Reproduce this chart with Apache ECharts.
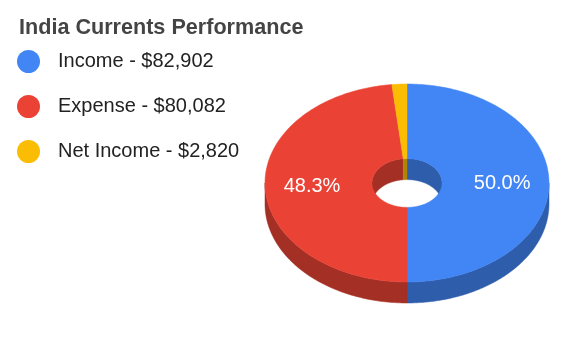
<!DOCTYPE html>
<html>
<head>
<meta charset="utf-8">
<script src="https://cdn.jsdelivr.net/npm/echarts@6/dist/echarts.min.js"></script>
<style>
  html, body { margin: 0; padding: 0; background: #fff; }
  #chart { width: 574px; height: 354px; }
</style>
</head>
<body>
<div id="chart"></div>
<script>
// data
var categories = ['Income', 'Expense', 'Net Income'];
var values = [82902, 80082, 2820];
var topColors = ['#4285f4', '#ea4335', '#fbbc04'];
var sideColors = ['#2e5dab', '#a42f25', '#b08403'];

var total = values.reduce(function (a, b) { return a + b; }, 0);
var pieData = [];
var acc = 0;
values.forEach(function (v) {
  pieData.push([acc, v, total]);
  acc += v;
});

var FONT = '"Liberation Sans", Arial, sans-serif';

// 3d pie geometry
var cx = 407, cy = 183, rx = 142, ry = 99, hx = 35, hy = 24.4, depth = 21;

function arc(ta, tb, a, b, dy) {
  var pts = [];
  var n = Math.max(2, Math.ceil(Math.abs(tb - ta) / (Math.PI / 180)));
  for (var i = 0; i <= n; i++) {
    var t = ta + (tb - ta) * i / n;
    pts.push([cx + a * Math.sin(t), cy - b * Math.cos(t) + dy]);
  }
  return pts;
}

function renderSlice(params, api) {
  var i = params.dataIndex;
  var start = api.value(0), v = api.value(1), sum = api.value(2);
  var t0 = start / sum * Math.PI * 2;
  var t1 = (start + v) / sum * Math.PI * 2;
  var children = [];

  // outer wall, front half only
  var lo = Math.max(t0, Math.PI / 2), hi = Math.min(t1, Math.PI * 1.5);
  if (hi > lo) {
    children.push({
      type: 'polygon', z2: 1,
      shape: { points: arc(lo, hi, rx, ry, 0).concat(arc(hi, lo, rx, ry, depth)) },
      style: { fill: sideColors[i], stroke: sideColors[i], lineWidth: 0.5 }
    });
  }
  // inner wall of the hole, back half only
  [[0, Math.PI / 2], [Math.PI * 1.5, Math.PI * 2]].forEach(function (s) {
    var a = Math.max(t0, s[0]), b = Math.min(t1, s[1]);
    if (b > a) {
      children.push({
        type: 'polygon', z2: 2,
        shape: { points: arc(a, b, hx, hy, 0).concat(arc(b, a, hx, hy, depth)) },
        style: { fill: sideColors[i], stroke: sideColors[i], lineWidth: 0.5 }
      });
    }
  });
  // top face
  children.push({
    type: 'polygon', z2: 10,
    shape: { points: arc(t0, t1, rx, ry, 0).concat(arc(t1, t0, hx, hy, 0)) },
    style: { fill: topColors[i], stroke: topColors[i], lineWidth: 0.5 }
  });
  // percent label
  if (v / sum >= 0.05) {
    var tm = (t0 + t1) / 2;
    children.push({
      type: 'text', z2: 20,
      x: cx + rx * 0.67 * Math.sin(tm),
      y: cy - ry * 0.67 * Math.cos(tm),
      style: {
        text: (v / sum * 100).toFixed(1) + '%',
        fill: '#fff', font: '20px ' + FONT,
        align: 'center', verticalAlign: 'middle'
      }
    });
  }
  return { type: 'group', children: children };
}

var chart = echarts.init(document.getElementById('chart'));
var option = {
  animation: false,
  title: {
    text: 'India Currents Performance',
    left: 19, top: 17, padding: 0,
    textStyle: { fontFamily: FONT, fontSize: 21.6, fontWeight: 'bold', color: '#444' }
  },
  legend: {
    orient: 'vertical',
    left: 17, top: 50, padding: 0,
    itemWidth: 23, itemHeight: 23, itemGap: 22,
    icon: 'circle',
    data: categories,
    formatter: function (name) {
      var v = values[categories.indexOf(name)];
      return name + ' - $' + v.toLocaleString('en-US');
    },
    textStyle: { fontFamily: FONT, fontSize: 20, color: '#222', padding: [0, 0, 0, 13] }
  },
  series: [
    {
      // only feeds the legend
      type: 'pie', silent: true,
      center: [-300, -300], radius: [0, 1],
      label: { show: false },
      data: categories.map(function (c, i) {
        return { name: c, value: values[i], itemStyle: { color: topColors[i] } };
      })
    },
    {
      type: 'custom',
      coordinateSystem: 'none',
      silent: true,
      renderItem: renderSlice,
      data: pieData
    }
  ]
};
chart.setOption(option);
</script>
</body>
</html>
